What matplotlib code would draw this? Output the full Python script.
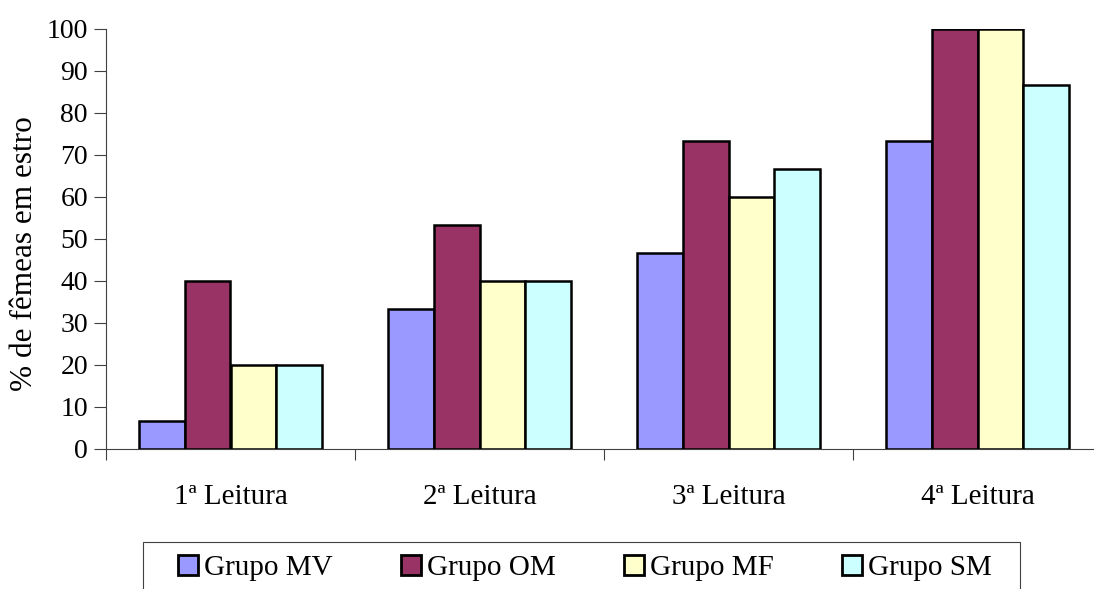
import numpy as np
import matplotlib.pyplot as plt
from matplotlib.patches import Rectangle
from matplotlib.ticker import FixedLocator, NullFormatter

plt.rcParams['font.family'] = ['Liberation Serif', 'DejaVu Serif']

# percentage of females in estrus at each reading
leituras = ['1ª Leitura', '2ª Leitura', '3ª Leitura', '4ª Leitura']
grupos = ['Grupo MV', 'Grupo OM', 'Grupo MF', 'Grupo SM']
grupo_mv = [6.67, 33.33, 46.67, 73.33]
grupo_om = [40.0, 53.33, 73.33, 100.0]
grupo_mf = [20.0, 40.0, 60.0, 100.0]
grupo_sm = [20.0, 40.0, 66.67, 86.67]
cores = ['#9999FF', '#993366', '#FFFFCC', '#CCFFFF']

W, H = 1094, 589
fig = plt.figure(figsize=(W / 100, H / 100), dpi=100)
ax = fig.add_axes([106 / W, (H - 449) / H, (1102 - 106) / W, (449 - 29) / H])

centros = np.arange(len(leituras)) + 0.5
largura = 0.183
series = [grupo_mv, grupo_om, grupo_mf, grupo_sm]
for i, (vals, cor, nome) in enumerate(zip(series, cores, grupos)):
    x = centros + (i - 1.5) * largura
    ax.bar(x, vals, width=largura, color=cor, edgecolor='black',
           linewidth=1.8, label=nome, zorder=3)

ax.set_xlim(0, 4)
ax.set_ylim(0, 100)
ax.set_yticks(np.arange(0, 101, 10))
ax.tick_params(axis='y', labelsize=20, length=9, width=0.8, color='#404040', pad=4)

# boundaries between readings get the tick marks, labels go in the middle
ax.xaxis.set_major_locator(FixedLocator(np.arange(0, 5)))
ax.xaxis.set_major_formatter(NullFormatter())
ax.xaxis.set_minor_locator(FixedLocator(centros))
ax.set_xticklabels(leituras, minor=True)
ax.tick_params(axis='x', which='major', length=8, width=0.8, color='#404040')
ax.tick_params(axis='x', which='minor', length=0, labelsize=21, pad=25)

for s in ['top', 'right']:
    ax.spines[s].set_visible(False)
for s in ['left', 'bottom']:
    ax.spines[s].set_color('#404040')
    ax.spines[s].set_linewidth(0.8)

ax.set_ylabel('% de fêmeas em estro', fontsize=22.5)
ax.yaxis.set_label_coords(-67 / 996, 0.5 - 15 / 420)

# legend box runs off the bottom edge
caixa = Rectangle((143 / W, -0.1), (1020 - 143) / W, (H - 542) / H + 0.1,
                  transform=fig.transFigure, fill=False,
                  edgecolor='#404040', linewidth=0.8)
fig.patches.append(caixa)

leg = fig.legend(loc='upper left', ncol=4, mode='expand',
                 bbox_to_anchor=(178 / W, (H - 555) / H - 0.2, (992 - 178) / W, 0.2),
                 bbox_transform=fig.transFigure, fontsize=21, frameon=False,
                 handlelength=0.7, handleheight=0.7, handletextpad=0.2,
                 borderpad=0, borderaxespad=0)
for p in leg.get_patches():
    p.set_linewidth(2)

fig.savefig('out.png', dpi=100)
